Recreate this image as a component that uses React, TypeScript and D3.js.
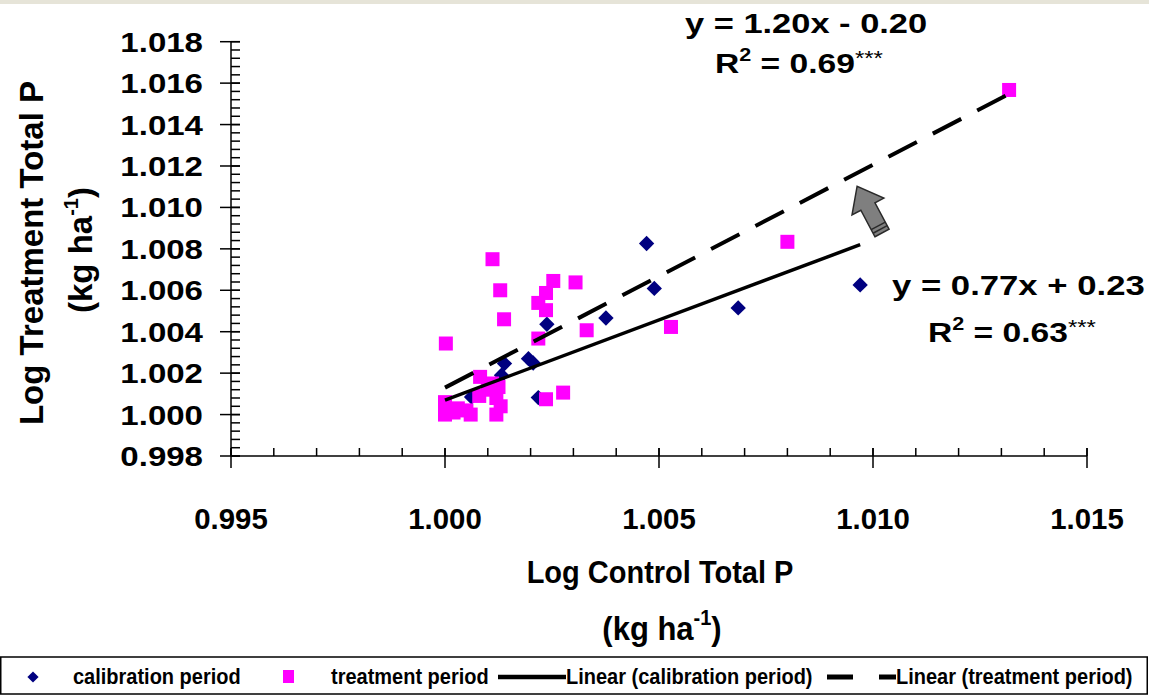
import React from 'react';
import * as d3 from 'd3';

// calibration period (log control, log treatment)
const calibX = [1.00062, 1.00132, 1.00139, 1.00195, 1.00206, 1.00218, 1.00238, 1.00376, 1.00471, 1.00489, 1.00685, 1.0097];
const calibY = [1.00085, 1.0019, 1.00246, 1.0027, 1.00249, 1.00082, 1.00436, 1.00466, 1.00826, 1.00609, 1.00515, 1.00626];

// treatment period
const treatX = [
  1.00111, 1.00129, 1.00138, 1.00002, 1.00253, 1.00305, 1.00236, 1.00218, 1.00236, 1.00218,
  1.00331, 1.00276, 1.00236, 1.00082, 1.00125, 1.008, 1.00528, 1.01318,
  1.0, 1.0, 1.0002, 1.0005, 1.0006, 1.0008, 1.001, 1.0012, 1.0012, 1.0013, 1.0003, 1.0011,
];
const treatY = [
  1.0075, 1.006, 1.0046, 1.00343, 1.00645, 1.00638, 1.00587, 1.00539, 1.00504, 1.00367,
  1.00407, 1.00106, 1.00074, 1.00182, 1.00133, 1.00834, 1.00423, 1.01567,
  1.0, 1.0006, 1.0001, 1.0002, 1.0, 1.0009, 1.0012, 1.0008, 1.0, 1.0004, 1.0003, 1.0015,
];

// trend line end points as drawn
const calibFitX = [1.0, 1.0097];
const calibFitY = [1.0007, 1.0082];
const treatFitX = [1.0, 1.0132];
const treatFitY = [1.0013, 1.0155];

const xTicks = [0.995, 1.0, 1.005, 1.01, 1.015];
const yTicks = [0.998, 1.0, 1.002, 1.004, 1.006, 1.008, 1.01, 1.012, 1.014, 1.016, 1.018];

const legendItems = ['calibration period', 'treatment period', 'Linear (calibration period)', 'Linear (treatment period)'];

const W = 1149;
const H = 696;
const NAVY = '#000080';
const PINK = '#ff00ff';
const FONT = '"Liberation Sans", Arial, sans-serif';

const x = d3.scaleLinear().domain([0.995, 1.015]).range([231, 1087]);
const y = d3.scaleLinear().domain([0.998, 1.018]).range([456, 41.7]);

const line = d3.line<[number, number]>().x(d => x(d[0])).y(d => y(d[1]));

const App = () => {
  const xMinor = d3.range(0, 21).map(i => 0.995 + i * 0.001);
  const yMinor = d3.range(0, 51).map(i => 0.998 + i * 0.0004);
  const calib = calibX.map((v, i) => [v, calibY[i]] as [number, number]);
  const treat = treatX.map((v, i) => [v, treatY[i]] as [number, number]);
  const diamond = d3.symbol(d3.symbolDiamond2, 150)();

  return (
    <svg width={W} height={H} style={{ position: 'absolute', left: 0, top: 0 }} fontFamily={FONT}>
      <rect x={0} y={0} width={W} height={H} fill="#fff" />
      <rect x={0} y={0} width={W} height={4} fill="#e6e4d8" />

      {/* axes */}
      <g stroke="#000" strokeWidth={1.5}>
        <line x1={231} x2={231} y1={y(1.018)} y2={y(0.998)} />
        <line x1={231} x2={x(1.015)} y1={456} y2={456} />
        {yMinor.map((v, i) => (
          <line key={'ym' + i} x1={231} x2={240} y1={y(v)} y2={y(v)} />
        ))}
        {yTicks.map(v => (
          <line key={'yM' + v} x1={220} x2={240} y1={y(v)} y2={y(v)} />
        ))}
        {xMinor.map((v, i) => (
          <line key={'xm' + i} x1={x(v)} x2={x(v)} y1={448} y2={456} />
        ))}
        {xTicks.map(v => (
          <line key={'xM' + v} x1={x(v)} x2={x(v)} y1={448} y2={468} />
        ))}
      </g>

      {yTicks.map(v => (
        <text key={'yl' + v} transform={`translate(203,${y(v) + 10}) scale(1.18,1)`} textAnchor="end"
          fontSize={28} fontWeight="bold">{d3.format('.3f')(v)}</text>
      ))}
      {xTicks.map(v => (
        <text key={'xl' + v} transform={`translate(${x(v)},529) scale(1.05,1.08)`} textAnchor="middle"
          fontSize={28} fontWeight="bold">{d3.format('.3f')(v)}</text>
      ))}

      {/* axis titles */}
      <g fontWeight="bold" fontSize={33} textAnchor="middle">
        <text transform="translate(43,253) rotate(-90)">Log Treatment Total P</text>
        <text transform="translate(92,250) rotate(-90)">
          (kg ha<tspan fontSize={20} dy={-14}>-1</tspan><tspan dy={14}>)</tspan>
        </text>
      </g>
      <g fontWeight="bold" textAnchor="middle">
        <text transform="translate(660,583) scale(1,1.1)" fontSize={29}>Log Control Total P</text>
        <text transform="translate(662,640) scale(1,1.1)" fontSize={31}>
          (kg ha<tspan fontSize={20} dy={-14}>-1</tspan><tspan dy={14}>)</tspan>
        </text>
      </g>

      {/* points */}
      {calib.map((d, i) => (
        <path key={'c' + i} d={diamond ?? ''} transform={`translate(${x(d[0])},${y(d[1])})`} fill={NAVY} />
      ))}
      {treat.map((d, i) => (
        <rect key={'t' + i} x={x(d[0]) - 7} y={y(d[1]) - 7} width={14} height={14} fill={PINK} />
      ))}

      {/* trend lines */}
      <path d={line(calibFitX.map((v, i) => [v, calibFitY[i]])) ?? ''} stroke="#000" strokeWidth={3.5} fill="none" />
      <path d={line(treatFitX.map((v, i) => [v, treatFitY[i]])) ?? ''} stroke="#000" strokeWidth={4}
        strokeDasharray="32 18" fill="none" />

      {/* arrow */}
      <g transform="translate(882,233) rotate(-28)">
        <polygon points="-8,0 8,0 8,-30 18,-30 0,-53 -18,-30 -8,-30" fill="#7f7f7f" stroke="#2a2a2a" strokeWidth={1.5} />
        <line x1={-8} x2={8} y1={-4} y2={-4} stroke="#2a2a2a" strokeWidth={1.5} />
        <line x1={-8} x2={8} y1={-8} y2={-8} stroke="#2a2a2a" strokeWidth={1.5} />
      </g>

      {/* equations */}
      <g fontWeight="bold" fontSize={28}>
        <text transform="translate(685,33) scale(1.23,1)">y = 1.20x - 0.20</text>
        <text transform="translate(715,73) scale(1.2,1)">
          R<tspan fontSize={18} dy={-12}>2</tspan><tspan dy={12}> = 0.69</tspan>
          <tspan fontSize={20} fontWeight="normal" dy={-8}>***</tspan>
        </text>
        <text transform="translate(892,295) scale(1.24,1)">y = 0.77x + 0.23</text>
        <text transform="translate(928,342) scale(1.2,1)">
          R<tspan fontSize={18} dy={-12}>2</tspan><tspan dy={12}> = 0.63</tspan>
          <tspan fontSize={20} fontWeight="normal" dy={-8}>***</tspan>
        </text>
      </g>

      {/* legend */}
      <rect x={0.75} y={657} width={1146.5} height={37} fill="#fff" stroke="#000" strokeWidth={1.5} />
      <g fontSize={20} fontWeight="bold">
        <path d={d3.symbol(d3.symbolDiamond2, 80)() ?? ''} transform="translate(33,677)" fill={NAVY} />
        <text transform="translate(73,684) scale(1,1.12)">{legendItems[0]}</text>
        <rect x={283} y={670} width={11} height={13} fill={PINK} />
        <text transform="translate(331,684) scale(1,1.12)">{legendItems[1]}</text>
        <line x1={498} x2={566} y1={677} y2={677} stroke="#000" strokeWidth={4.5} />
        <text transform="translate(566,684) scale(1,1.12)">{legendItems[2]}</text>
        <line x1={827} x2={896} y1={677} y2={677} stroke="#000" strokeWidth={5} strokeDasharray="26 26 17" />
        <text transform="translate(896,684) scale(1,1.12)">{legendItems[3]}</text>
      </g>
    </svg>
  );
};

export default App;
